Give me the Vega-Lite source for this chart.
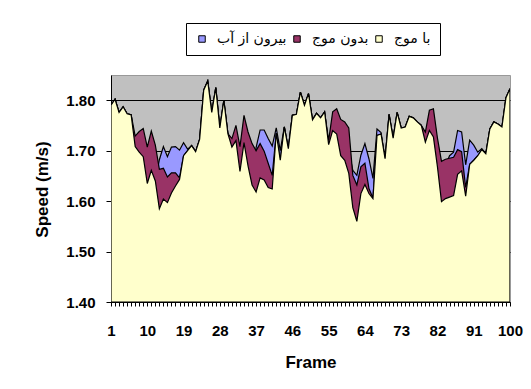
{
  "$schema": "https://vega.github.io/schema/vega-lite/v6.json",
  "autosize": {"type": "none"},
  "width": 399,
  "height": 227,
  "padding": {"left": 111, "top": 75, "right": 21, "bottom": 87},
  "background": "white",
  "data": {"values": [
    {"frame":1,"withWave":1.790,"noWave":1.790,"outOfWater":1.790},
    {"frame":2,"withWave":1.802,"noWave":1.802,"outOfWater":1.802},
    {"frame":3,"withWave":1.776,"noWave":1.776,"outOfWater":1.776},
    {"frame":4,"withWave":1.787,"noWave":1.787,"outOfWater":1.787},
    {"frame":5,"withWave":1.773,"noWave":1.773,"outOfWater":1.773},
    {"frame":6,"withWave":1.771,"noWave":1.771,"outOfWater":1.771},
    {"frame":7,"withWave":1.708,"noWave":1.729,"outOfWater":1.708},
    {"frame":8,"withWave":1.697,"noWave":1.738,"outOfWater":1.697},
    {"frame":9,"withWave":1.688,"noWave":1.744,"outOfWater":1.688},
    {"frame":10,"withWave":1.635,"noWave":1.707,"outOfWater":1.635},
    {"frame":11,"withWave":1.661,"noWave":1.739,"outOfWater":1.661},
    {"frame":12,"withWave":1.640,"noWave":1.711,"outOfWater":1.640},
    {"frame":13,"withWave":1.585,"noWave":1.663,"outOfWater":1.682},
    {"frame":14,"withWave":1.604,"noWave":1.665,"outOfWater":1.708},
    {"frame":15,"withWave":1.597,"noWave":1.648,"outOfWater":1.688},
    {"frame":16,"withWave":1.616,"noWave":1.656,"outOfWater":1.707},
    {"frame":17,"withWave":1.630,"noWave":1.656,"outOfWater":1.708},
    {"frame":18,"withWave":1.643,"noWave":1.646,"outOfWater":1.701},
    {"frame":19,"withWave":1.690,"noWave":1.690,"outOfWater":1.716},
    {"frame":20,"withWave":1.700,"noWave":1.700,"outOfWater":1.703},
    {"frame":21,"withWave":1.710,"noWave":1.710,"outOfWater":1.710},
    {"frame":22,"withWave":1.698,"noWave":1.698,"outOfWater":1.698},
    {"frame":23,"withWave":1.723,"noWave":1.723,"outOfWater":1.723},
    {"frame":24,"withWave":1.820,"noWave":1.820,"outOfWater":1.820},
    {"frame":25,"withWave":1.838,"noWave":1.838,"outOfWater":1.838},
    {"frame":26,"withWave":1.776,"noWave":1.776,"outOfWater":1.776},
    {"frame":27,"withWave":1.825,"noWave":1.825,"outOfWater":1.825},
    {"frame":28,"withWave":1.745,"noWave":1.745,"outOfWater":1.745},
    {"frame":29,"withWave":1.800,"noWave":1.800,"outOfWater":1.800},
    {"frame":30,"withWave":1.734,"noWave":1.734,"outOfWater":1.734},
    {"frame":31,"withWave":1.707,"noWave":1.724,"outOfWater":1.707},
    {"frame":32,"withWave":1.720,"noWave":1.750,"outOfWater":1.720},
    {"frame":33,"withWave":1.659,"noWave":1.708,"outOfWater":1.659},
    {"frame":34,"withWave":1.716,"noWave":1.770,"outOfWater":1.716},
    {"frame":35,"withWave":1.670,"noWave":1.737,"outOfWater":1.670},
    {"frame":36,"withWave":1.632,"noWave":1.714,"outOfWater":1.632},
    {"frame":37,"withWave":1.618,"noWave":1.700,"outOfWater":1.706},
    {"frame":38,"withWave":1.646,"noWave":1.714,"outOfWater":1.741},
    {"frame":39,"withWave":1.642,"noWave":1.699,"outOfWater":1.741},
    {"frame":40,"withWave":1.627,"noWave":1.675,"outOfWater":1.724},
    {"frame":41,"withWave":1.624,"noWave":1.651,"outOfWater":1.709},
    {"frame":42,"withWave":1.735,"noWave":1.735,"outOfWater":1.745},
    {"frame":43,"withWave":1.681,"noWave":1.681,"outOfWater":1.700},
    {"frame":44,"withWave":1.747,"noWave":1.747,"outOfWater":1.747},
    {"frame":45,"withWave":1.704,"noWave":1.704,"outOfWater":1.704},
    {"frame":46,"withWave":1.770,"noWave":1.770,"outOfWater":1.770},
    {"frame":47,"withWave":1.772,"noWave":1.772,"outOfWater":1.772},
    {"frame":48,"withWave":1.816,"noWave":1.816,"outOfWater":1.816},
    {"frame":49,"withWave":1.790,"noWave":1.790,"outOfWater":1.790},
    {"frame":50,"withWave":1.813,"noWave":1.813,"outOfWater":1.813},
    {"frame":51,"withWave":1.761,"noWave":1.761,"outOfWater":1.761},
    {"frame":52,"withWave":1.774,"noWave":1.774,"outOfWater":1.774},
    {"frame":53,"withWave":1.765,"noWave":1.765,"outOfWater":1.765},
    {"frame":54,"withWave":1.777,"noWave":1.777,"outOfWater":1.777},
    {"frame":55,"withWave":1.712,"noWave":1.720,"outOfWater":1.712},
    {"frame":56,"withWave":1.740,"noWave":1.777,"outOfWater":1.740},
    {"frame":57,"withWave":1.733,"noWave":1.783,"outOfWater":1.733},
    {"frame":58,"withWave":1.690,"noWave":1.762,"outOfWater":1.690},
    {"frame":59,"withWave":1.681,"noWave":1.757,"outOfWater":1.681},
    {"frame":60,"withWave":1.655,"noWave":1.745,"outOfWater":1.700},
    {"frame":61,"withWave":1.587,"noWave":1.651,"outOfWater":1.661},
    {"frame":62,"withWave":1.560,"noWave":1.632,"outOfWater":1.651},
    {"frame":63,"withWave":1.615,"noWave":1.668,"outOfWater":1.691},
    {"frame":64,"withWave":1.633,"noWave":1.675,"outOfWater":1.714},
    {"frame":65,"withWave":1.615,"noWave":1.625,"outOfWater":1.684},
    {"frame":66,"withWave":1.605,"noWave":1.606,"outOfWater":1.645},
    {"frame":67,"withWave":1.730,"noWave":1.730,"outOfWater":1.743},
    {"frame":68,"withWave":1.733,"noWave":1.733,"outOfWater":1.736},
    {"frame":69,"withWave":1.684,"noWave":1.684,"outOfWater":1.684},
    {"frame":70,"withWave":1.772,"noWave":1.772,"outOfWater":1.772},
    {"frame":71,"withWave":1.725,"noWave":1.725,"outOfWater":1.725},
    {"frame":72,"withWave":1.776,"noWave":1.776,"outOfWater":1.776},
    {"frame":73,"withWave":1.745,"noWave":1.745,"outOfWater":1.745},
    {"frame":74,"withWave":1.747,"noWave":1.747,"outOfWater":1.747},
    {"frame":75,"withWave":1.768,"noWave":1.768,"outOfWater":1.768},
    {"frame":76,"withWave":1.765,"noWave":1.765,"outOfWater":1.765},
    {"frame":77,"withWave":1.757,"noWave":1.757,"outOfWater":1.757},
    {"frame":78,"withWave":1.750,"noWave":1.750,"outOfWater":1.750},
    {"frame":79,"withWave":1.717,"noWave":1.737,"outOfWater":1.717},
    {"frame":80,"withWave":1.740,"noWave":1.780,"outOfWater":1.740},
    {"frame":81,"withWave":1.727,"noWave":1.783,"outOfWater":1.727},
    {"frame":82,"withWave":1.668,"noWave":1.725,"outOfWater":1.668},
    {"frame":83,"withWave":1.599,"noWave":1.679,"outOfWater":1.599},
    {"frame":84,"withWave":1.605,"noWave":1.683,"outOfWater":1.670},
    {"frame":85,"withWave":1.608,"noWave":1.685,"outOfWater":1.690},
    {"frame":86,"withWave":1.611,"noWave":1.687,"outOfWater":1.697},
    {"frame":87,"withWave":1.653,"noWave":1.702,"outOfWater":1.740},
    {"frame":88,"withWave":1.660,"noWave":1.698,"outOfWater":1.737},
    {"frame":89,"withWave":1.610,"noWave":1.627,"outOfWater":1.672},
    {"frame":90,"withWave":1.673,"noWave":1.673,"outOfWater":1.721},
    {"frame":91,"withWave":1.681,"noWave":1.681,"outOfWater":1.711},
    {"frame":92,"withWave":1.690,"noWave":1.690,"outOfWater":1.697},
    {"frame":93,"withWave":1.702,"noWave":1.702,"outOfWater":1.704},
    {"frame":94,"withWave":1.694,"noWave":1.694,"outOfWater":1.694},
    {"frame":95,"withWave":1.743,"noWave":1.743,"outOfWater":1.743},
    {"frame":96,"withWave":1.757,"noWave":1.757,"outOfWater":1.757},
    {"frame":97,"withWave":1.753,"noWave":1.753,"outOfWater":1.753},
    {"frame":98,"withWave":1.747,"noWave":1.747,"outOfWater":1.747},
    {"frame":99,"withWave":1.805,"noWave":1.805,"outOfWater":1.805},
    {"frame":100,"withWave":1.823,"noWave":1.823,"outOfWater":1.823}
  ]},
  "layer": [
    {
      "mark": {"type": "area", "stroke": "black", "strokeWidth": 1.2, "clip": true},
      "encoding": {
        "x": {"field": "frame", "type": "quantitative", "title": "Frame",
              "scale": {"domain": [1, 100], "nice": false, "zero": false},
              "axis": {"tickCount": 1000, "format": "d",
                       "values": [1,2,3,4,5,6,7,8,9,10,11,12,13,14,15,16,17,18,19,20,21,22,23,24,25,26,27,28,29,30,31,32,33,34,35,36,37,38,39,40,41,42,43,44,45,46,47,48,49,50,51,52,53,54,55,56,57,58,59,60,61,62,63,64,65,66,67,68,69,70,71,72,73,74,75,76,77,78,79,80,81,82,83,84,85,86,87,88,89,90,91,92,93,94,95,96,97,98,99,100],
                       "labelExpr": "(datum.value - 1) % 9 == 0 ? datum.label : ''"}},
        "y": {"field": "outOfWater", "type": "quantitative", "title": "Speed (m/s)",
              "scale": {"domain": [1.4, 1.85], "nice": false, "zero": false},
              "axis": {"values": [1.4, 1.5, 1.6, 1.7, 1.8], "format": ".2f", "tickCount": 100}},
        "y2": {"datum": 1.4},
        "color": {"datum": "بیرون از آب", "type": "nominal",
                  "scale": {"domain": ["بیرون از آب", "بدون موج", "با موج"],
                            "range": ["#9999FF", "#993366", "#FFFFCC"]},
                  "legend": {"symbolStrokeColor": "black", "symbolStrokeWidth": 1,
                             "encode": {"symbols": {"update": {"stroke": {"value": "black"}, "strokeWidth": {"value": 1}}}}}}
      }
    },
    {
      "mark": {"type": "area", "stroke": "black", "strokeWidth": 1.2, "clip": true},
      "encoding": {
        "x": {"field": "frame", "type": "quantitative", "title": "Frame"},
        "y": {"field": "noWave", "type": "quantitative", "title": "Speed (m/s)"},
        "y2": {"datum": 1.4},
        "color": {"datum": "بدون موج", "type": "nominal"}
      }
    },
    {
      "mark": {"type": "area", "stroke": "black", "strokeWidth": 1.2, "clip": true},
      "encoding": {
        "x": {"field": "frame", "type": "quantitative", "title": "Frame"},
        "y": {"field": "withWave", "type": "quantitative", "title": "Speed (m/s)"},
        "y2": {"datum": 1.4},
        "color": {"datum": "با موج", "type": "nominal"}
      }
    }
  ],
  "config": {
    "view": {"fill": "#C0C0C0", "stroke": "#999999", "strokeWidth": 1},
    "axis": {
      "labelFont": "Liberation Sans", "labelFontWeight": "bold", "labelFontSize": 15, "labelColor": "black",
      "titleFont": "Liberation Sans", "titleFontWeight": "bold", "titleFontSize": 17, "titleColor": "black",
      "domainColor": "black", "tickColor": "black", "labelFlush": false, "labelOverlap": false
    },
    "axisX": {
      "grid": false, "tickSize": 4, "labelPadding": 17,
      "titleY": 65, "titleBaseline": "alphabetic"
    },
    "axisY": {
      "grid": true, "gridColor": "black", "gridOpacity": 1, "gridWidth": 1,
      "tickSize": 5, "labelPadding": 11,
      "titleX": -63.5, "titleY": 114, "titleBaseline": "alphabetic", "titleAngle": -90
    },
    "legend": {
      "orient": "none", "legendX": 75, "legendY": -52, "direction": "horizontal",
      "title": null, "strokeColor": "black", "fillColor": "white", "padding": 9,
      "symbolType": "square", "symbolSize": 42,
      "labelFont": "DejaVu Sans", "labelFontSize": 14, "labelColor": "black",
      "labelOffset": 8, "columnPadding": 3
    }
  }
}
